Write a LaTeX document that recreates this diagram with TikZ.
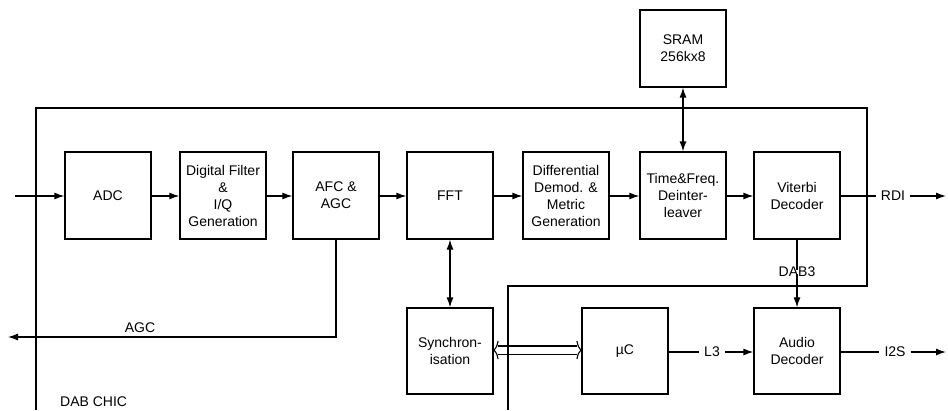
\documentclass[tikz,border=0pt]{standalone}
\usepackage{fontspec}
\setmainfont{Liberation Sans}
\usetikzlibrary{arrows.meta}
\begin{document}
\begin{tikzpicture}[x=1pt,y=-1pt,
  every node/.style={font=\fontsize{14}{17}\selectfont},
  blk/.style={draw,line width=1.2pt,minimum width=86pt,minimum height=87pt,align=center,inner sep=0pt},
  ln/.style={line width=1.2pt},
  arr/.style={line width=1.2pt,-{Latex[length=10pt,width=7pt]}},
  barr/.style={line width=1.2pt,{Latex[length=10pt,width=7pt]}-{Latex[length=10pt,width=7pt]}},
  lbl/.style={inner sep=0pt}]
\useasboundingbox (0,0) rectangle (948,410);
% chip border
\draw[ln] (36,410) -- (36,108) -- (867,108) -- (867,286) -- (508,286) -- (508,410);
% top row
\node[blk] (adc) at (108,195.5) {ADC};
\node[blk] (df) at (223,195.5) {Digital Filter\\\&\\I/Q\\Generation};
\node[blk] (afc) at (336,195.5) {AFC \&\\AGC};
\node[blk] (fft) at (450,195.5) {FFT};
\node[blk] (diff) at (566,195.5) {Differential\\Demod. \&\\Metric\\Generation};
\node[blk] (tfd) at (683,195.5) {Time\&Freq.\\Deinter-\\leaver};
\node[blk] (vit) at (797,195.5) {Viterbi\\Decoder};
\node[blk,minimum height=77pt] (sram) at (683,48.5) {SRAM\\256kx8};
% bottom row
\node[blk,minimum height=86pt] (sync) at (450,351) {Synchron-\\isation};
\node[blk,minimum height=86pt] (uc) at (625,351) {µC};
\node[blk,minimum height=86pt] (aud) at (797,351) {Audio\\Decoder};
% row arrows
\coordinate (in) at (15,196);
\draw[arr] (in) -- (adc.west |- in);
\draw[arr] (adc.east |- in) -- (df.west |- in);
\draw[arr] (df.east |- in) -- (afc.west |- in);
\draw[arr] (afc.east |- in) -- (fft.west |- in);
\draw[arr] (fft.east |- in) -- (diff.west |- in);
\draw[arr] (diff.east |- in) -- (tfd.west |- in);
\draw[arr] (tfd.east |- in) -- (vit.west |- in);
% RDI
\node[lbl] (rdi) at (893,196) {RDI};
\coordinate (rdiend) at (946,196);
\draw[ln] (vit.east |- in) -- ([xshift=-5pt]rdi.west);
\draw[arr] ([xshift=5pt]rdi.east) -- (rdiend);
% SRAM
\draw[barr] (sram.south) -- (tfd.north);
% FFT - sync
\draw[barr] (fft.south) -- (sync.north);
% AGC
\coordinate (agcc) at (336,337);
\coordinate (agcend) at (8,337);
\draw[ln,-{Latex[length=10pt,width=7pt]}] (afc.south) -- (agcc) -- (agcend);
\node[lbl] (agc) at (140,328) {AGC};
% DAB3
\node[lbl] (dab3) at (797,272) {DAB3};
\draw[ln] (vit.south) -- ([yshift=-3pt]dab3.north);
\draw[arr] ([yshift=3pt]dab3.south) -- (aud.north);
% L3
\node[lbl] (l3) at (712,352) {L3};
\draw[ln] (uc.east |- l3) -- ([xshift=-5pt]l3.west);
\draw[arr] ([xshift=5pt]l3.east) -- (aud.west |- l3);
% I2S
\node[lbl] (i2s) at (895,352) {I2S};
\coordinate (i2send) at (946,352);
\draw[ln] (aud.east |- i2s) -- ([xshift=-5pt]i2s.west);
\draw[arr] ([xshift=5pt]i2s.east) -- (i2send);
% hollow double arrow sync <-> uC
\draw[line width=1.1pt] ([xshift=4pt,yshift=-3.5pt]sync.east) -- ([xshift=-4pt,yshift=-3.5pt]uc.west)
  ([xshift=4pt,yshift=5pt]sync.east) -- ([xshift=-4pt,yshift=5pt]uc.west);
\draw[line width=1.1pt] ([xshift=4.5pt,yshift=-8pt]sync.east) .. controls ([xshift=3pt,yshift=-2pt]sync.east) .. ([xshift=0.5pt,yshift=0.8pt]sync.east)
  .. controls ([xshift=3pt,yshift=4pt]sync.east) .. ([xshift=4.5pt,yshift=10pt]sync.east);
\draw[line width=1.1pt] ([xshift=-4.5pt,yshift=-8pt]uc.west) .. controls ([xshift=-3pt,yshift=-2pt]uc.west) .. ([xshift=-0.5pt,yshift=0.8pt]uc.west)
  .. controls ([xshift=-3pt,yshift=4pt]uc.west) .. ([xshift=-4.5pt,yshift=10pt]uc.west);
% DAB CHIC
\node[lbl,anchor=west] (chic) at (60,402) {DAB CHIC};
\end{tikzpicture}
\end{document}
